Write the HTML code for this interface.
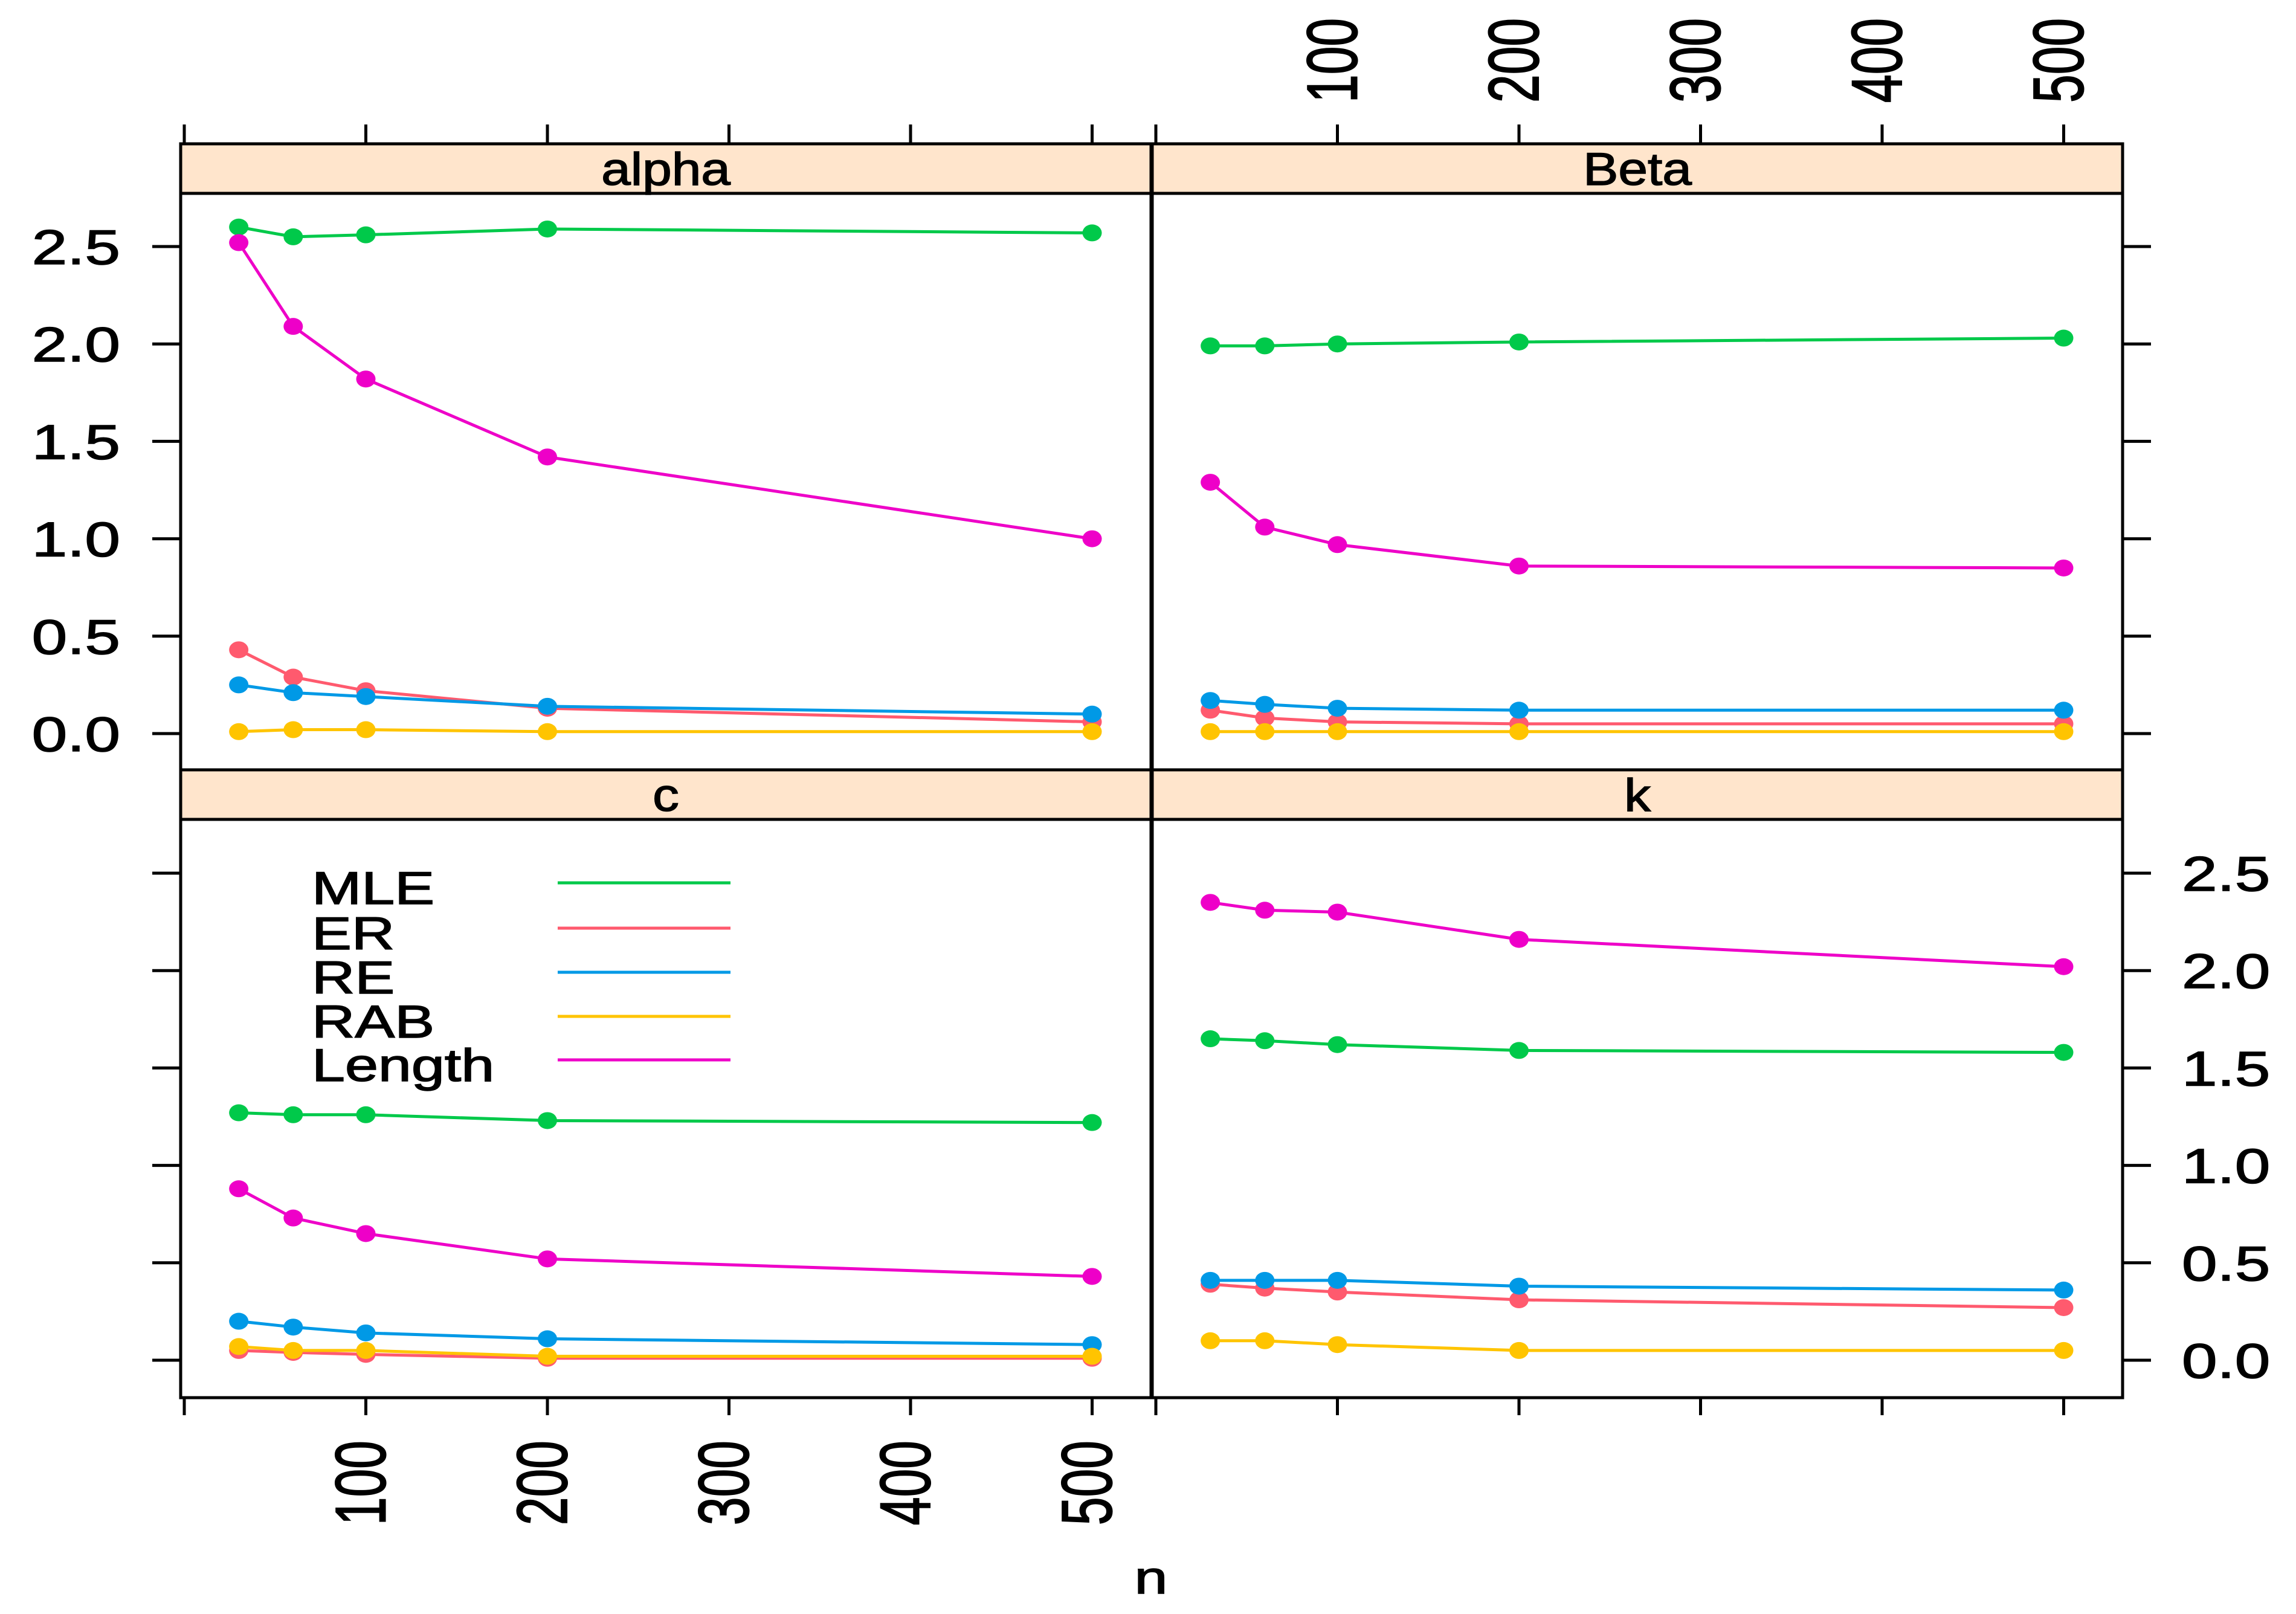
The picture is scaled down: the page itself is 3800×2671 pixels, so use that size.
<!DOCTYPE html>
<html><head><meta charset="utf-8"><style>
html,body{margin:0;padding:0;background:#fff;}
svg{display:block;font-family:"Liberation Sans",sans-serif;}
</style></head><body>
<svg id="chart" width="3800" height="2671" viewBox="0 0 3800 2671" xmlns="http://www.w3.org/2000/svg"></svg>
<script>
const nValues = [30, 60, 100, 200, 500];
const seriesNames = ["MLE", "ER", "RE", "RAB", "Length"];
const seriesColors = ["#00C94A", "#FF5A6E", "#0099E6", "#FFC400", "#EE00C8"];
const panelNames = ["alpha", "Beta", "c", "k"];
const alphaMLE = [2.60, 2.55, 2.56, 2.59, 2.57];
const alphaER = [0.43, 0.29, 0.22, 0.13, 0.06];
const alphaRE = [0.25, 0.21, 0.19, 0.14, 0.10];
const alphaRAB = [0.01, 0.02, 0.02, 0.01, 0.01];
const alphaLength = [2.52, 2.09, 1.82, 1.42, 1.00];
const betaMLE = [1.99, 1.99, 2.00, 2.01, 2.03];
const betaER = [0.12, 0.08, 0.06, 0.05, 0.05];
const betaRE = [0.17, 0.15, 0.13, 0.12, 0.12];
const betaRAB = [0.01, 0.01, 0.01, 0.01, 0.01];
const betaLength = [1.29, 1.06, 0.97, 0.86, 0.85];
const cMLE = [1.27, 1.26, 1.26, 1.23, 1.22];
const cER = [0.05, 0.04, 0.03, 0.01, 0.01];
const cRE = [0.20, 0.17, 0.14, 0.11, 0.08];
const cRAB = [0.07, 0.05, 0.05, 0.02, 0.02];
const cLength = [0.88, 0.73, 0.65, 0.52, 0.43];
const kMLE = [1.65, 1.64, 1.62, 1.59, 1.58];
const kER = [0.39, 0.37, 0.35, 0.31, 0.27];
const kRE = [0.41, 0.41, 0.41, 0.38, 0.36];
const kRAB = [0.10, 0.10, 0.08, 0.05, 0.05];
const kLength = [2.35, 2.31, 2.30, 2.16, 2.02];
const xTicks = [0, 100, 200, 300, 400, 500];
const xTickLabels = ["100", "200", "300", "400", "500"];
const yTicks = [0, 0.5, 1.0, 1.5, 2.0, 2.5];
const yTickLabels = ["0.0", "0.5", "1.0", "1.5", "2.0", "2.5"];

const panelData = [
  [alphaMLE, alphaER, alphaRE, alphaRAB, alphaLength],
  [betaMLE, betaER, betaRE, betaRAB, betaLength],
  [cMLE, cER, cRE, cRAB, cLength],
  [kMLE, kER, kRE, kRAB, kLength]
];

const NS = "http://www.w3.org/2000/svg";
const svg = document.getElementById("chart");
function mk(tag, attrs, parent) {
  const e = document.createElementNS(NS, tag);
  for (const k in attrs) e.setAttribute(k, attrs[k]);
  (parent || svg).appendChild(e);
  return e;
}
const colX = [299, 1907], colW = 1606;
const stripTop = [238, 1274], panelTop = [320, 1356], panelBot = [1274, 2313];
const zeroY = [1214, 2251];
const yPer = 322.4;
function xs(col, n) { return colX[col] + 6 + n * 3.005; }
function ys(row, v) { return zeroY[row] - v * yPer; }
function text(str, x, y, size, anchor, rot, name, sx) {
  const g = mk("g", {transform: "translate(" + x + "," + y + ") scale(" + (sx || 1.3) + ",1)" + (rot ? " rotate(-90)" : "")});
  const t = mk("text", {x: 0, y: 0, "font-size": size, "text-anchor": anchor, fill: "#000", stroke: "#000", "stroke-width": 1.5}, g);
  t.textContent = str;
  
  
  return t;
}

for (let p = 0; p < 4; p++) {
  const col = p % 2, row = Math.floor(p / 2);
  const x0 = colX[col];
  const panel = mk("g", {});
  
  
  const strip = mk("rect", {x: x0, y: stripTop[row], width: colW, height: panelTop[row] - stripTop[row], fill: "#FFE5CC", stroke: "#000", "stroke-width": 5}, panel);
  
  
  text(panelNames[p], x0 + colW / 2, panelTop[row] - 14, 76, "middle", false, "strip-label", 1.15);
  const box = mk("rect", {x: x0, y: panelTop[row], width: colW, height: panelBot[row] - panelTop[row], fill: "none", stroke: "#000", "stroke-width": 5}, panel);
  
  

  for (let s = 0; s < seriesNames.length; s++) {
    const vals = panelData[p][s];
    const pts = vals.map((v, i) => xs(col, nValues[i]) + "," + ys(row, v)).join(" ");
    const line = mk("polyline", {points: pts, fill: "none", stroke: seriesColors[s], "stroke-width": 5}, panel);
    
    
    vals.forEach((v, i) => {
      const c = mk("ellipse", {cx: xs(col, nValues[i]), cy: ys(row, v), rx: 16, ry: 14, fill: seriesColors[s]}, panel);
      
      
    });
  }
  yTicks.forEach((v, i) => {
    const y = ys(row, v);
    if (col === 0) {
      const t = mk("line", {x1: 252, x2: 299, y1: y, y2: y, stroke: "#000", "stroke-width": 5});
      
      
      if (row === 0) text(yTickLabels[i], 199, y + 29, 81, "end", false, "y-tick-label");
    } else {
      const t = mk("line", {x1: 3513, x2: 3560, y1: y, y2: y, stroke: "#000", "stroke-width": 5});
      
      
      if (row === 1) text(yTickLabels[i], 3611, y + 29, 81, "start", false, "y-tick-label");
    }
  });
  xTicks.forEach((n, i) => {
    const x = xs(col, n);
    if (row === 0) {
      const t = mk("line", {x1: x, x2: x, y1: 206, y2: 238, stroke: "#000", "stroke-width": 5});
      
      
      if (col === 1 && i > 0) text(xTickLabels[i - 1], x + 32, 170, 84, "start", true, "x-tick-label", 1.4);
    } else {
      const t = mk("line", {x1: x, x2: x, y1: 2313, y2: 2342, stroke: "#000", "stroke-width": 5});
      
      
      if (col === 0 && i > 0) text(xTickLabels[i - 1], x + 32, 2384, 84, "end", true, "x-tick-label", 1.4);
    }
  });
}
const legendLineY = [1461, 1536, 1609, 1682, 1754];
const legendLabels = ["MLE", "ER", "RE", "RAB", "Length"];
legendLabels.forEach((lab, i) => {
  text(lab, 516, legendLineY[i] + 35, 76, "start", false, "legend-label");
  const l = mk("line", {x1: 923, x2: 1209, y1: legendLineY[i], y2: legendLineY[i], stroke: seriesColors[i], "stroke-width": 5});
  
  
});
text("n", 1905, 2637, 76, "middle", false, "x-axis-title");
</script>
</body></html>
